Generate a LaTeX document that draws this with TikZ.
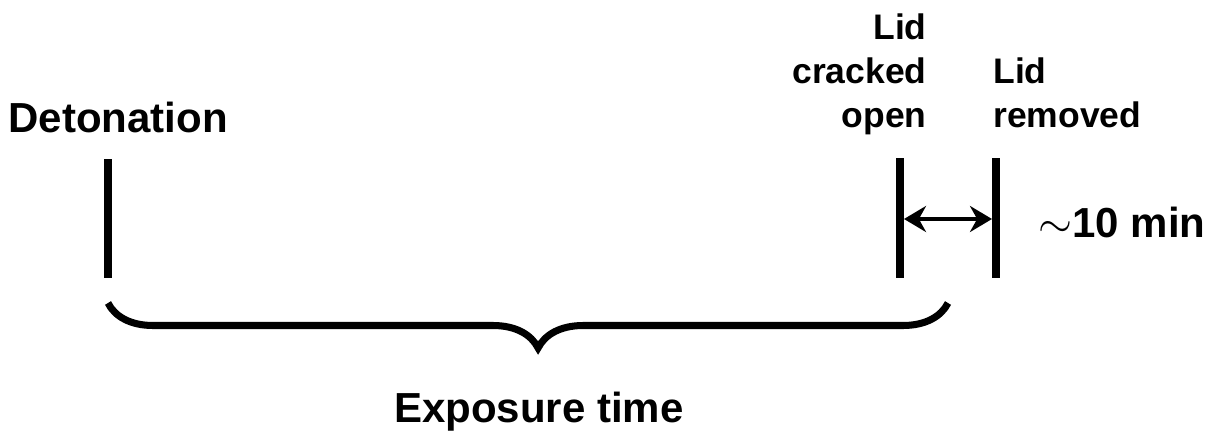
\documentclass[tikz,border=0pt]{standalone}
\usepackage{fontspec}
\setmainfont{Liberation Sans}
\usetikzlibrary{arrows.meta,decorations.pathreplacing}
\begin{document}
\begin{tikzpicture}[big/.style={font=\fontsize{23.9}{28}\selectfont\bfseries,inner sep=0},
    small/.style={font=\fontsize{20.2}{25}\selectfont\bfseries,inner sep=0},
    tick/.style={line width=4.4pt}]
\useasboundingbox (0,0) rectangle (24.22,8.68);
\coordinate (det top) at (2.16,5.5);
\coordinate (det bot) at (2.16,3.12);
\coordinate (crack top) at (18,5.52);
\coordinate (crack bot) at (18,3.12);
\coordinate (rem top) at (19.92,5.52);
\coordinate (rem bot) at (19.92,3.12);
\coordinate (crack mid) at (18,4.3);
\coordinate (rem mid) at (19.92,4.3);
\coordinate (b1) at (2.16,2.62);
\coordinate (b2) at (18.96,2.62);
\draw[tick] (det top) -- (det bot);
\draw[tick] (crack top) -- (crack bot);
\draw[tick] (rem top) -- (rem bot);
\draw[line width=2pt,{Stealth[length=0.44cm,width=0.52cm]}-{Stealth[length=0.44cm,width=0.52cm]},shorten <=0.08cm,shorten >=0.08cm] (crack mid) -- (rem mid);
\draw[line width=4pt,decorate,decoration={brace,mirror,amplitude=0.9cm,aspect=0.512}] (b1) -- (b2);
\node[big,anchor=base] (det) at (2.36,6.04) {Detonation};
\node[small,align=right,anchor=base east] (crack) at (18.54,6.14) {Lid\\cracked\\open};
\node[small,align=left,anchor=base west] (rem) at (19.86,6.14) {Lid\\removed};
\node[big,anchor=base west] (gap) at (20.76,3.94) {$\sim$10 min};
\node[big,anchor=base] (expo) at (10.78,0.24) {Exposure time};
\end{tikzpicture}
\end{document}
